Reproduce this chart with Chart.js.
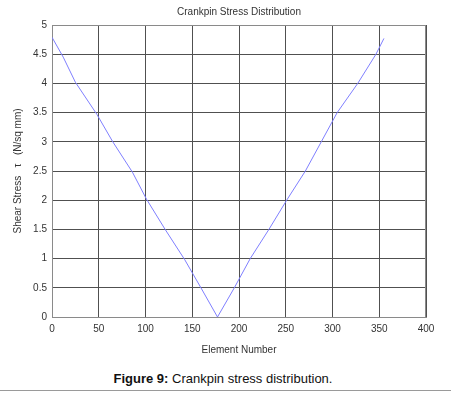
<!DOCTYPE html>
<html>
<head>
<meta charset="utf-8">
<script src="https://cdn.jsdelivr.net/npm/chart.js@4/dist/chart.umd.min.js"></script>
<style>
  html, body { margin: 0; padding: 0; background: #fff; }
  #wrap { position: relative; width: 454px; height: 394px; overflow: hidden; }
  #c { position: absolute; left: 0; top: 0; }
  #caption { position: absolute; left: 0; width: 446px; top: 371px; text-align: center;
             font-family: "Liberation Sans", Arial, sans-serif; font-size: 13px; color: #111; }
  #rule { position: absolute; left: 0; width: 451px; top: 390px; height: 0; border-top: 1px solid #9a9a9a; }
</style>
</head>
<body>
<div id="wrap">
  <canvas id="c" width="454" height="360"></canvas>
  <div id="caption"><b>Figure 9:</b> Crankpin stress distribution.</div>
  <div id="rule"></div>
</div>
<script>
const chartTitle = "Crankpin Stress Distribution";
const xAxisTitle = "Element Number";
const yAxisTitle = "Shear Stress   \u03C4   (N/sq mm)";
const elementNumber = [0, 12, 25, 48, 65, 86, 101, 121, 142, 160, 177, 195, 212, 232, 251, 271, 288, 305, 327, 346.5, 355];
const shearStress   = [4.79, 4.45, 4.02, 3.47, 3.0, 2.48, 2.02, 1.5, 0.98, 0.48, 0.0, 0.5, 1.0, 1.5, 2.0, 2.5, 3.0, 3.5, 4.0, 4.5, 4.77];
const xTicks = [0, 50, 100, 150, 200, 250, 300, 350, 400];
const yTicks = [0, 0.5, 1, 1.5, 2, 2.5, 3, 3.5, 4, 4.5, 5];

const points = elementNumber.map((x, i) => ({ x: x, y: shearStress[i] }));
const font = { family: '"Liberation Sans", Arial, sans-serif', size: 10 };

new Chart(document.getElementById('c'), {
  type: 'scatter',
  data: { datasets: [{
    data: points, showLine: true, borderColor: '#7f7fff', borderWidth: 1,
    pointRadius: 0, tension: 0, fill: false
  }]},
  options: {
    responsive: false, animation: false,
    layout: { padding: { left: 0, right: 28, top: 0, bottom: 0 } },
    plugins: {
      legend: { display: false }, tooltip: { enabled: false },
      title: { display: true, text: chartTitle, fullSize: false, color: '#333',
               font: { family: font.family, size: 10, weight: 'normal' }, padding: { top: 6, bottom: 7 } }
    },
    scales: {
      x: {
        type: 'linear', min: 0, max: 400,
        afterBuildTicks: s => { s.ticks = xTicks.map(v => ({ value: v })); },
        afterFit: s => { s.height = 43; },
        grid: { color: '#505050', lineWidth: 1, drawTicks: false },
        border: { color: '#8a8a8a' },
        ticks: { color: '#333', font: font, padding: 6, maxRotation: 0, callback: v => String(v) },
        title: { display: true, text: xAxisTitle, color: '#333', font: font, padding: { top: 2 } }
      },
      y: {
        type: 'linear', min: 0, max: 5,
        afterBuildTicks: s => { s.ticks = yTicks.map(v => ({ value: v })); },
        afterFit: s => { s.width = 52; },
        grid: { color: '#505050', lineWidth: 1, drawTicks: false },
        border: { color: '#8a8a8a' },
        ticks: { color: '#333', font: font, padding: 5, callback: v => String(v) },
        title: { display: true, text: yAxisTitle, color: '#333', font: font, padding: { top: 12, bottom: 0 } }
      }
    }
  },
  plugins: [{
    id: 'frame',
    afterDatasetsDraw(chart) {
      const a = chart.chartArea, ctx = chart.ctx;
      ctx.save(); ctx.strokeStyle = '#8a8a8a'; ctx.lineWidth = 1;
      ctx.beginPath();
      ctx.moveTo(a.left, a.top + 0.5); ctx.lineTo(a.right, a.top + 0.5);
      ctx.moveTo(a.right - 0.5, a.top); ctx.lineTo(a.right - 0.5, a.bottom);
      ctx.stroke(); ctx.restore();
    }
  }]
});
</script>
</body>
</html>
